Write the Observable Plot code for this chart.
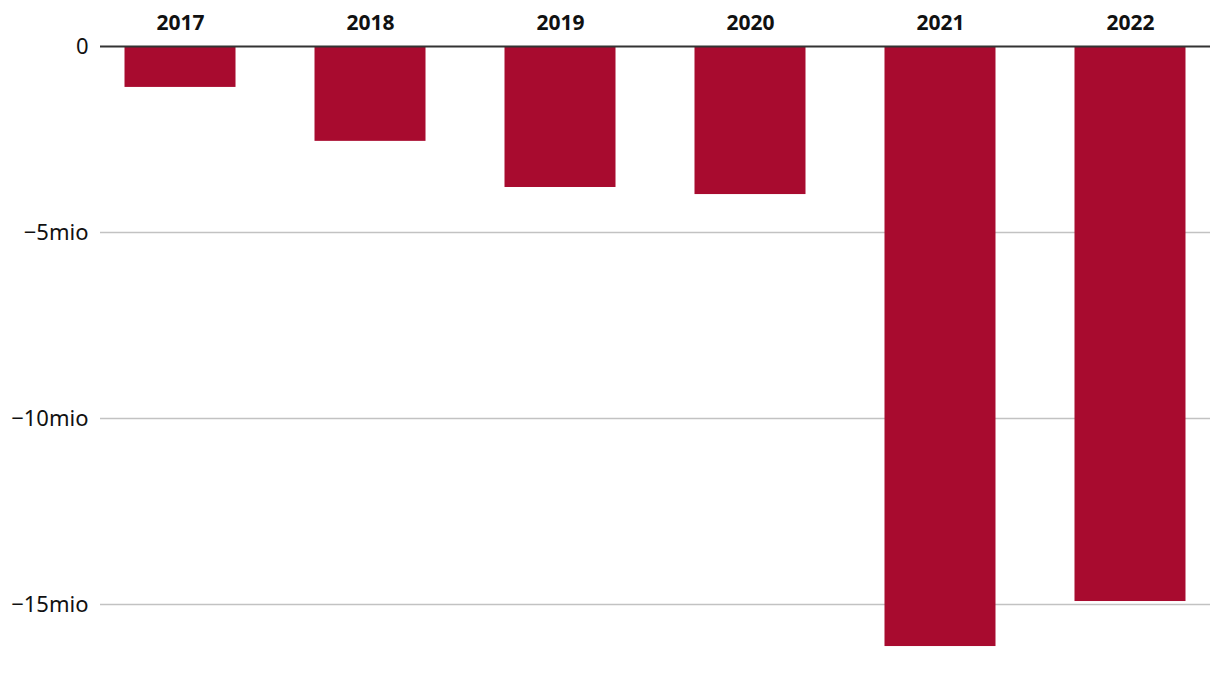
<!DOCTYPE html>
<html>
<head>
<meta charset="utf-8">
<script src="https://cdn.jsdelivr.net/npm/d3@7"></script>
<script src="https://cdn.jsdelivr.net/npm/@observablehq/plot@0.6"></script>
<style>
  html, body { margin: 0; padding: 0; background: #fff; }
  #chart svg { display: block; }
</style>
</head>
<body>
<div id="chart"></div>
<script>
const years = ["2017", "2018", "2019", "2020", "2021", "2022"];
const values = [-1.1, -2.55, -3.79, -3.98, -16.13, -14.92]; // in millions
const yTicks = [0, -5, -10, -15];
const gridTicks = [-5, -10, -15];

const data = years.map((y, i) => ({year: y, value: values[i]}));
const fmt = d => d === 0 ? "0" : "\u2212" + Math.abs(d) + "mio";

const chart = Plot.plot({
  width: 1220,
  height: 696,
  marginTop: 46,
  marginLeft: 100,
  marginRight: 10,
  marginBottom: 17.6,
  style: {fontFamily: "'Noto Sans', sans-serif", background: "#fff"},
  x: {domain: years, paddingInner: 0.4158, paddingOuter: 0.129, round: false, axis: null},
  y: {domain: [-17, 0], axis: null},
  marks: [
    Plot.ruleY(gridTicks, {stroke: "#c2c2c2", strokeWidth: 1.5}),
    Plot.barY(data, {x: "year", y: "value", fill: "#a80b2f"}),
    Plot.ruleY([0], {stroke: "#333", strokeWidth: 2}),
    Plot.axisX({anchor: "top", tickSize: 0, tickPadding: 17, fontSize: 21, fontWeight: "bold", fill: "#111", label: null}),
    Plot.axisY(yTicks, {anchor: "left", tickSize: 0, tickPadding: 12, tickFormat: fmt, fontSize: 22, fill: "#111", label: null})
  ]
});
document.getElementById("chart").appendChild(chart);
</script>
</body>
</html>
